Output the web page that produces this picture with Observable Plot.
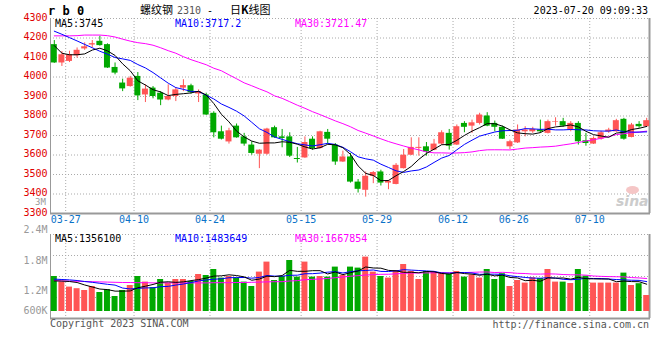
<!DOCTYPE html>
<html><head><meta charset="utf-8">
<script src="https://cdn.jsdelivr.net/npm/d3@7"></script>
<script src="https://cdn.jsdelivr.net/npm/@observablehq/plot@0.6"></script>
<style>
html,body{margin:0;padding:0;background:#fff;}
#wrap{position:relative;width:660px;height:360px;overflow:hidden;font-family:"DejaVu Sans Mono",monospace;font-size:10px;color:#000;}
.t{position:absolute;white-space:pre;line-height:10px;}
.cjk{font-family:"Noto Sans CJK SC",sans-serif;font-size:11px;line-height:12px;}
#price,#vol{position:absolute;left:0;}
#price{top:0;}
#vol{top:228px;}
</style></head><body>
<div id="wrap">
  <div id="price"></div>
  <div id="vol"></div>
  <div class="t" style="left:48px;top:5px;font-weight:bold;font-size:12px;line-height:12px;">r b 0</div>
  <div class="t cjk" style="left:140px;top:3px;">螺纹钢</div>
  <div class="t" style="left:177px;top:6px;color:#555;">2310</div>
  <div class="t" style="left:207px;top:6px;">-</div>
  <div class="t cjk" style="left:230px;top:3px;">日<b>K</b>线图</div>
  <div class="t" style="right:12px;top:6px;">2023-07-20 09:09:33</div>
  <div class="t" style="left:55px;top:19px;color:#000;">MA5:3745</div>
  <div class="t" style="left:175px;top:19px;color:#0000ff;">MA10:3717.2</div>
  <div class="t" style="left:295px;top:19px;color:#ff00ff;">MA30:3721.47</div>
  <div class="t" style="left:35px;top:198px;font-size:9px;line-height:9px;color:#999;">3M</div>
  <div style="position:absolute;left:626px;top:186px;width:13px;height:8px;border-radius:50%;background:#f5c6c6;"></div>
  <div class="t" style="left:616px;top:194px;font:italic bold 14px 'DejaVu Sans',sans-serif;line-height:14px;color:#cccccc;">sina</div>
  <div class="t" style="left:55px;top:234px;color:#000;">MA5:1356100</div>
  <div class="t" style="left:175px;top:234px;color:#0000ff;">MA10:1483649</div>
  <div class="t" style="left:295px;top:234px;color:#ff00ff;">MA30:1667854</div>
  <div class="t" style="left:50px;top:319px;color:#555;">Copyright 2023 SINA.COM</div>
  <div class="t" style="right:11px;top:320px;color:#555;">http://finance.sina.com.cn</div>
</div>
<script>
const dates = ["03-23","03-24","03-27","03-28","03-29","03-30","03-31","04-03","04-04","04-06","04-07","04-10","04-11","04-12","04-13","04-14","04-17","04-18","04-19","04-20","04-21","04-24","04-25","04-26","04-27","04-28","05-04","05-05","05-08","05-09","05-10","05-11","05-12","05-15","05-16","05-17","05-18","05-19","05-22","05-23","05-24","05-25","05-26","05-29","05-30","05-31","06-01","06-02","06-05","06-06","06-07","06-08","06-09","06-12","06-13","06-14","06-15","06-16","06-19","06-20","06-21","06-26","06-27","06-28","06-29","06-30","07-03","07-04","07-05","07-06","07-07","07-10","07-11","07-12","07-13","07-14","07-17","07-18","07-19"];
const opens = [4166,4072,4080,4109,4144,4164,4183,4166,4049,3969,
3951,4003,3908,3943,3917,3882,3900,3943,3955,3913,
3908,3814,3719,3667,3748,3693,3651,3604,3604,3740,
3693,3693,3582,3585,3681,3633,3716,3651,3564,3590,
3461,3419,3491,3513,3456,3449,3530,3599,3634,3642,
3624,3656,3711,3651,3762,3748,3762,3800,3762,3742,
3642,3662,3719,3719,3728,3711,3768,3771,3728,3762,
3673,3656,3681,3719,3719,3783,3690,3757,3745];
const highs = [4187,4131,4132,4149,4175,4187,4209,4170,4072,3989,
4003,4023,3960,3951,3925,3960,3946,3986,3963,3934,
3917,3822,3748,3737,3759,3711,3668,3627,3737,3748,
3731,3714,3639,3693,3693,3722,3731,3659,3620,3608,
3474,3513,3515,3522,3470,3556,3628,3688,3688,3664,
3680,3724,3731,3754,3771,3779,3814,3817,3774,3748,
3676,3754,3745,3742,3779,3779,3791,3788,3771,3771,
3711,3693,3722,3737,3783,3788,3762,3771,3788];
const lows = [4070,4054,4074,4097,4137,4149,4158,4044,4011,3925,
3948,3879,3869,3888,3853,3878,3874,3925,3912,3869,
3803,3688,3677,3656,3686,3645,3599,3530,3599,3686,
3637,3587,3559,3583,3625,3631,3656,3547,3562,3456,
3405,3384,3453,3441,3422,3447,3528,3597,3594,3594,
3622,3651,3625,3649,3714,3711,3754,3745,3719,3680,
3628,3659,3693,3711,3711,3708,3748,3742,3719,3651,
3645,3654,3676,3711,3717,3676,3688,3737,3743];
const closes = [4072,4114,4114,4137,4155,4171,4161,4046,4020,3939,
3994,3903,3938,3900,3882,3900,3934,3956,3920,3925,
3805,3714,3681,3724,3688,3656,3608,3625,3733,3688,
3685,3594,3577,3664,3633,3719,3681,3564,3590,3461,
3424,3491,3510,3456,3465,3547,3599,3639,3639,3616,
3656,3714,3645,3745,3742,3765,3805,3748,3742,3681,
3668,3728,3728,3731,3719,3771,3771,3748,3762,3668,
3659,3685,3714,3728,3776,3681,3754,3745,3776];
const volumes = [1750000,1470000,1220000,1140000,1050000,1250000,950000,1090000,750000,1050000,
1300000,1750000,1470000,1190000,1600000,1420000,1600000,1600000,1500000,1850000,
1800000,2100000,1670000,1750000,1670000,1470000,1250000,1970000,2470000,1550000,
1750000,2550000,1720000,2470000,1720000,1750000,1720000,2220000,1800000,2220000,
2170000,2720000,1970000,1750000,1670000,2050000,2350000,2000000,1600000,2000000,
1970000,1940000,1850000,2000000,1720000,1820000,1670000,2100000,1600000,1890000,
1250000,1550000,1420000,1690000,1650000,2100000,1470000,1470000,1400000,2100000,
1770000,1420000,1420000,1420000,1420000,1920000,1300000,1390000,800000];
const ma5Head = [4161,4122,4114,4114];
const ma10Head = [4235,4219,4202,4185,4167,4150,4132,4117,4100];
const ma30Head = [4211,4211,4211,4212,4215,4215,4215,4212,4205,4194,4184,4176,4171,4163,4150,4135,4122,4104,4089,4076,4063,4045,4032,4011,3991,3970,3955,3939,3924];
const vma5Head = [1530000,1520000,1500000,1450000];
const vma10Head = [1620000,1600000,1580000,1550000,1500000,1460000,1410000,1360000,1320000];
const vma30Head = [1550000,1530000,1520000,1510000,1500000,1490000,1480000,1470000,1460000,1450000,1450000,1440000,1440000,1430000,1430000,1430000,1430000,1430000,1430000,1430000,1430000,1440000,1440000,1440000,1450000,1450000,1460000,1470000,1480000];
const priceTicks = [3300,3400,3500,3600,3700,3800,3900,4000,4100,4200,4300];
const dateTicks = ["03-27","04-10","04-24","05-15","05-29","06-12","06-26","07-10"];
const volTickLabels = ["2.4M","1.8M","1.2M","600K"];
const volTickValues = [4100000,2550000,1050000,50000];
const volGrid = [700000,1750000,2800000];
const volDomain = [-350000,3850000];

function movingAvg(vals,k,head){return vals.map((v,i)=> i<k-1 ? head[i] : d3.mean(vals.slice(i-k+1,i+1)));}
const ma5=movingAvg(closes,5,ma5Head), ma10=movingAvg(closes,10,ma10Head), ma30=movingAvg(closes,30,ma30Head);
const vma5=movingAvg(volumes,5,vma5Head), vma10=movingAvg(volumes,10,vma10Head), vma30=movingAvg(volumes,30,vma30Head);
const rows = dates.map((d,i)=>({date:d,o:opens[i],h:highs[i],l:lows[i],c:closes[i],v:volumes[i],up:closes[i]>=opens[i],
  ma5:ma5[i],ma10:ma10[i],ma30:ma30[i],vma5:vma5[i],vma10:vma10[i],vma30:vma30[i]}));
const up=rows.filter(d=>d.up), dn=rows.filter(d=>!d.up);
const W=660, ML=50, MR=10, bw=(W-ML-MR)/dates.length;
const RED="#ff5555", GREEN="#00a800", GRID="#aaaaaa", AX="#999999", F="DejaVu Sans Mono";
const dotted={stroke:GRID, strokeDasharray:"1,2"};
const xScale={type:"band",domain:dates,padding:0,axis:null};
const st={background:"transparent",overflow:"visible"};

const frameMarks = () => [
  Plot.ruleX(dateTicks,{x:d=>d,dx:-bw/2,...dotted}),
  Plot.ruleX([dates[0]],{x:d=>d,dx:-bw/2,stroke:AX}),
  Plot.ruleX([dates[dates.length-1]],{x:d=>d,dx:bw/2-1,stroke:AX,strokeWidth:2})
];

const price = Plot.plot({width:W,height:228,marginLeft:ML,marginRight:MR,marginTop:18,marginBottom:15,
  x:xScale, y:{domain:[3300,4300],axis:null}, style:st,
  marks:[
    Plot.ruleY(priceTicks.slice(1),{y:d=>d,...dotted}),
    ...frameMarks(),
    Plot.ruleY([priceTicks[0]],{y:d=>d,stroke:AX,strokeWidth:2}),
    Plot.ruleX(up,{x:"date",y1:"l",y2:"h",stroke:RED}),
    Plot.ruleX(dn,{x:"date",y1:"l",y2:"h",stroke:GREEN}),
    Plot.barY(up,{x:"date",y1:"o",y2:"c",fill:RED,insetLeft:0.8,insetRight:0.8}),
    Plot.barY(dn,{x:"date",y1:"o",y2:"c",fill:GREEN,insetLeft:0.8,insetRight:0.8}),
    Plot.ruleY(up,{x:"date",y:"c",stroke:RED,insetLeft:0.8,insetRight:0.8}),
    Plot.ruleY(dn,{x:"date",y:"c",stroke:GREEN,insetLeft:0.8,insetRight:0.8}),
    Plot.lineY(rows,{x:"date",y:"ma30",stroke:"#ff00ff",strokeWidth:1}),
    Plot.lineY(rows,{x:"date",y:"ma10",stroke:"#0000ff",strokeWidth:1}),
    Plot.lineY(rows,{x:"date",y:"ma5",stroke:"#000000",strokeWidth:1}),
    Plot.text(priceTicks,{y:d=>d,text:d=>String(d),frameAnchor:"left",textAnchor:"end",dx:-3,dy:-1,fill:"#e00000",fontFamily:F,fontSize:10}),
    Plot.text(dateTicks,{x:d=>d,text:d=>d,frameAnchor:"bottom",dx:-bw/2,dy:9,fill:"#0a72c8",fontFamily:F,fontSize:10})
  ]});
document.getElementById("price").appendChild(price);

const vol = Plot.plot({width:W,height:104,marginLeft:ML,marginRight:MR,marginTop:6,marginBottom:14,
  x:xScale, y:{domain:volDomain,axis:null}, style:st,
  marks:[
    Plot.ruleY([...volGrid, volDomain[1]],{y:d=>d,...dotted}),
    ...frameMarks(),
    Plot.ruleY([volDomain[0]],{y:d=>d,stroke:AX,strokeWidth:2}),
    Plot.barY(up,{x:"date",y1:0,y2:"v",fill:RED,insetLeft:0.8,insetRight:0.8}),
    Plot.barY(dn,{x:"date",y1:0,y2:"v",fill:GREEN,insetLeft:0.8,insetRight:0.8}),
    Plot.lineY(rows,{x:"date",y:"vma30",stroke:"#ff00ff",strokeWidth:1}),
    Plot.lineY(rows,{x:"date",y:"vma10",stroke:"#0000ff",strokeWidth:1}),
    Plot.lineY(rows,{x:"date",y:"vma5",stroke:"#000000",strokeWidth:1}),
    Plot.text(volTickLabels,{y:(d,i)=>volTickValues[i],text:d=>d,frameAnchor:"left",textAnchor:"end",dx:-3,fill:"#999999",fontFamily:F,fontSize:10})
  ]});
document.getElementById("vol").appendChild(vol);
</script>
</body></html>
